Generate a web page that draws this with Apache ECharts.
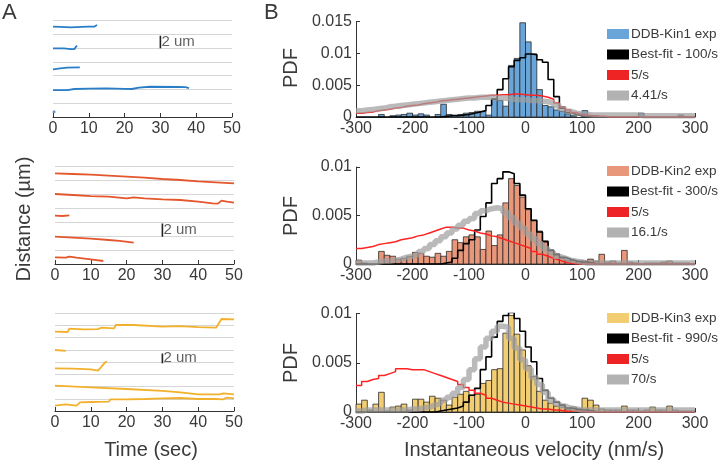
<!DOCTYPE html>
<html><head><meta charset="utf-8">
<script src="https://cdn.jsdelivr.net/npm/echarts/dist/echarts.min.js"></script>
<style>html,body{margin:0;padding:0;background:#fff}#c{width:722px;height:461px}</style>
</head><body><div id="c"></div>
<script>
// ---------------- DATA ----------------
// Panel A: trajectories, [time (s), distance (um, vertically offset)]
const kin1Tracks = [
  [[0,13.13],[2,13.1],[5,13.04],[8,13.1],[10,13.13],[11.5,13.13],[12.3,13.37]],
  [[0,9.98],[3,9.98],[5,9.88],[6,9.88],[6.4,10.2],[6.7,10.37]],
  [[0,6.93],[2,7.07],[4,7.17],[7.5,7.22]],
  [[0,3.92],[4,3.92],[6,4.07],[10,4.12],[15,4.17],[20,4.1],[22,4.07],[24,4.26],[27,4.4],[35,4.36],[37,4.33],[38,4.21]]
];
const kin1Dot = [[0.3,0.77]];
const kin2Tracks = [
  [[0,12.95],[5,12.86],[10,12.76],[15,12.62],[20,12.48],[25,12.33],[30,12.14],[35,12.0],[40,11.81],[45,11.67],[50,11.52]],
  [[0,10.0],[5,9.86],[10,9.71],[15,9.62],[20,9.38],[22,9.52],[25,9.38],[30,9.24],[35,9.14],[40,8.9],[44,8.67],[45.5,8.62],[46.5,9.05],[48,8.9],[50,8.76]],
  [[0,6.9],[2,6.86],[4,6.95]],
  [[0,3.9],[5,3.76],[10,3.62],[15,3.43],[18,3.29],[22,3.05]],
  [[0,0.95],[3,0.9],[4,1.05],[6,0.9],[10,0.67],[13.5,0.43]]
];
const kin3Tracks = [
  [[0,12.95],[3.5,12.9],[4,13.44],[8,13.33],[12,13.38],[13,13.6],[16.5,13.5],[17,14.04],[22,14.04],[30,13.76],[35,13.87],[40,13.71],[45,13.6],[46.5,15.02],[50,14.96]],
  [[0,9.96],[3,9.8]],
  [[0,6.97],[5,6.92],[10,6.8],[12,6.58],[13,7.25],[14,7.95],[14.5,8.05]],
  [[0,4.13],[10,3.87],[20,3.59],[30,3.27],[35,3.05],[40,2.72],[46,2.72],[47,2.89],[50,2.72]],
  [[0,0.87],[3,1.09],[6,0.87],[6.5,0.76],[7,1.42],[10,1.47],[15,1.52],[15.5,1.91],[20,1.91],[25,1.96],[30,2.07],[35,2.12],[40,1.96],[45,1.96],[47,1.91],[48,2.18],[50,2.07]]
];
const scaleBarA1 = [[30,10.0],[30,11.8]];
const scaleBarA2 = [[30,3.9],[30,5.8]];
const scaleBarA3 = [[30,7.8],[30,9.4]];
const scaleLabel = '2 um';
const timeTicks = [0,10,20,30,40,50];

// Panel B: histogram bins (nm/s), bin width 10
const binCenters = [-295,-285,-275,-265,-255,-245,-235,-225,-215,-205,-195,-185,-175,-165,-155,-145,-135,-125,-115,-105,-95,-85,-75,-65,-55,-45,-35,-25,-15,-5,5,15,25,35,45,55,65,75,85,95,105,115,125,135,145,155,165,175,185,195,205,215,225,235,245,255,265,275,285,295];
const binWidth = 10;

const kin1Exp = [0,0,0,0,.0004,0,.0002,.0003,.0004,.0006, .0003,.0005,.0003,0,.0004,.002,.0004,.0003,.0004,.0006, .0007,.0009,.0009,.0003,.0028,.0026,.0017,.0081,.0092,.0148, .0118,.0099,.0043,.0018,.0016,.0011,.0009,.0005,.0002,0, .001,0,.0002,0,0,0,0,0,0,0, .0006,0,0,0,0,0,0,.0003,0,0];
const kin1Fit = [0,0,0,0,0,0,0,0,0,0, 0,0,0,0,0,.0001,.0002,.0002,.0003,.0004, .0006,.0008,.0010,.0018,.0028,.0043,.006,.0079,.0089,.0093, .0099,.0098,.0090,.0086,.0059,.0032,.0014,.0007,.0004,.0002, .0001,0,0,0,0,0,0,0,0,0, 0,0,0,0,0,0,0,0,0,0];
const kin1Red = [.0006,.0007,.0008,.0010,.0011,.0012,.0014,.0015,.0017,.0018, .0019,.0021,.0022,.0023,.0025,.0026,.0027,.0028,.0029,.0030, .0031,.0032,.0033,.0034,.0034,.0035,.0035,.0036,.0036,.0035, .0034,.0034,.0033,.0031,.0028,.0022,.0016,.0011,.0007,.0004, .0003,.0002,.0001,.0001,0,0,0,0,0,0, 0,0,0,0,0,0,0,0,0,0];
const kin1Gray = [.0010,.0011,.0012,.0013,.0014,.0016,.0017,.0018,.0019,.0020, .0021,.0022,.0023,.0024,.0025,.0026,.0027,.0028,.0029,.0030, .0030,.0031,.0031,.0031,.0030,.0030,.0029,.0028,.0027,.0027, .0026,.0026,.0025,.0024,.0022,.0018,.0013,.0009,.0006,.0005, .0004,.0003,.0003,.0003,.0003,.0003,.0003,.0003,.0003,.0003, .0002,.0002,.0002,.0002,.0002,.0002,.0002,.0002,.0002,.0002];

const kin2Exp = [.0004,.0001,0,0,.0013,.0009,.0008,.0005,.0006,.0008, .0012,.0011,.0008,.0007,.0011,.0008,.0013,.0025,.0022,.0028, .0030,.0028,.0015,.0034,.0019,.0030,.0063,.0088,.0081,.0069, .0056,.0045,.0034,.0024,.0014,.0009,.0006,.0004,.0004,.0003, .0003,.0005,.0003,.0010,.0002,.0003,.0001,.0014,.0002,.0001, 0,.0001,.0001,.0001,.0002,.0003,.0001,.0001,.0001,0];
const kin2Fit = [0,0,0,0,0,0,0,0,0,0, 0,0,0,0,0,.0001,.0002,.0006,.0014,.0021, .0025,.0035,.0049,.0063,.0083,.0088,.0095,.0093,.0083,.0071, .0057,.0045,.0033,.0023,.0014,.0010,.0007,.0005,.0003,.0002, .0002,.0001,0,0,0,0,0,0,0,0, 0,0,0,0,0,0,0,0,0,0];
const kin2Red = [.0016,.0017,.0018,.0020,.0021,.0022,.0023,.0025,.0026,.0027, .0029,.0030,.0032,.0034,.0036,.0038,.0038,.0037,.0037,.0035, .0034,.0032,.0031,.0029,.0028,.0026,.0024,.0022,.0020,.0018, .0016,.0013,.0010,.0008,.0006,.0004,.0002,.0001,0,0, 0,0,0,0,0,0,0,0,0,0, 0,0,0,0,0,0,0,0,0,0];
const kin2Gray = [.0001,.0001,.0001,.0002,.0003,.0003,.0004,.0005,.0007,.0008, .0010,.0013,.0016,.0020,.0024,.0028,.0032,.0036,.0040,.0044, .0047,.0052,.0055,.0057,.0058,.0057,.0053,.0048,.0042,.0037, .0031,.0026,.0021,.0016,.0012,.0008,.0006,.0004,.0003,.0002, .0001,.0001,.0001,.0001,.0001,.0001,.0001,.0001,.0001,.0001, .0001,.0001,.0001,.0001,.0001,.0001,.0001,.0001,.0001,.0001];

const kin3Exp = [.0008,.0012,.0002,.0008,.002,.0001,.0005,.0006,.0008,.0002, .0013,.0013,.001,.0016,.0014,.0012,.0007,.0015,.0018,.0021, .0017,.0018,.0029,.0032,.0043,.0044,.008,.0098,.0079,.0063, .0047,.0036,.0021,.0012,.0009,.0006,.0005,.0003,.0005,.0003, .0014,.0012,.0007,.0003,.0002,.0002,.0002,.0006,.0002,.0002, .0001,.0002,.0005,.0002,.0002,.0006,.0002,.0001,.0001,.0001];
const kin3Fit = [0,0,0,0,0,0,0,0,0,0, 0,0,0,0,.0001,.0002,.0003,.0004,.0006,.001, .0017,.0024,.0043,.0056,.0076,.0092,.0098,.0101,.0095,.0082, .0066,.0051,.0034,.0022,.0014,.0010,.0007,.0004,.0003,.0002, .0002,.0001,0,0,0,0,0,0,0,0, 0,0,0,0,0,0,0,0,0,0];
const kin3Red = [.0027,.0031,.0033,.0034,.0037,.0039,.0041,.0044,.0044,.0043, .0043,.0043,.0041,.0039,.0037,.0035,.0033,.0031,.0028,.0025, .0022,.0019,.0017,.0014,.0012,.0010,.0009,.0008,.0007,.0006, .0005,.0004,.0003,.0003,.0002,.0002,.0001,.0001,.0001,.0001, 0,0,0,0,0,0,0,0,0,0, 0,0,0,0,0,0,0,0,0,0];
const kin3Gray = [.0001,.0002,.0002,.0002,.0002,.0002,.0002,.0002,.0002,.0003, .0003,.0004,.0005,.0007,.0009,.0012,.0015,.0019,.0025,.0033, .0043,.0054,.0066,.0075,.0082,.0087,.0086,.0075,.0065,.0053, .0044,.0035,.0028,.0020,.0013,.0009,.0006,.0004,.0003,.0002, .0002,.0002,.0002,.0002,.0002,.0002,.0002,.0002,.0002,.0002, .0002,.0002,.0002,.0002,.0002,.0002,.0002,.0002,.0002,.0002];

const legend1 = ['DDB-Kin1 exp','Best-fit - 100/s','5/s','4.41/s'];
const legend2 = ['DDB-Kin2 exp','Best-fit - 300/s','5/s ','16.1/s'];
const legend3 = ['DDB-Kin3 exp','Best-fit - 990/s','5/s  ','70/s'];
const velTicks = [-300,-200,-100,0,100,200,300];

// ---------------- STYLE ----------------
const FONT = 'Liberation Sans';
const TXT = '#3a3a3a';
const AX = '#333';
const blue = '#2a7ec8', orange = '#e4562c', yellow = '#f2b12c';
const barBlue = '#6aa5d9', barOrange = '#e9977b', barYellow = '#f2cd72';
const redLine = '#ff2222', grayLine = 'rgba(160,160,160,0.72)', grayLegend = '#b2b2b2';

const chart = echarts.init(document.getElementById('c'), null, {renderer:'canvas'});

const gridsA = [
  {left:53, top:20.7, width:179, height:96.3},
  {left:55, top:166, width:179, height:98},
  {left:55, top:313, width:179, height:98}
];
const yMaxA = [14, 14, 16];
const gridsB = [
  {left:356, top:21.5, width:339, height:95.5},
  {left:356, top:167, width:339, height:97},
  {left:356, top:313.5, width:339, height:98.5}
];
const yMaxB = [0.015, 0.01, 0.01];

const grid = [], xAxis = [], yAxis = [], series = [];
gridsA.forEach((g,i)=>{
  grid.push(g);
  xAxis.push({gridIndex:i, type:'value', min:timeTicks[0], max:timeTicks[timeTicks.length-1], interval:10,
    axisLine:{onZero:false,lineStyle:{color:AX,width:1}}, axisTick:{inside:true,length:4,lineStyle:{color:AX}},
    axisLabel:{fontSize:16,color:TXT,fontFamily:FONT,margin:4}, splitLine:{show:false}});
  yAxis.push({gridIndex:i, type:'value', min:0, max:yMaxA[i], interval:2,
    axisLine:{show:false,onZero:false}, axisTick:{show:false}, axisLabel:{show:false},
    splitLine:{show:true,lineStyle:{color:'#d6d6d6',width:1}}});
});
gridsB.forEach((g,j)=>{
  const i = j+3;
  grid.push(g);
  xAxis.push({gridIndex:i, type:'value', min:velTicks[0], max:velTicks[velTicks.length-1], interval:100,
    axisLine:{onZero:false,lineStyle:{color:AX,width:1}}, axisTick:{inside:true,length:4,lineStyle:{color:AX}},
    axisLabel:{fontSize:16,color:TXT,fontFamily:FONT,margin:4}, splitLine:{show:false}});
  yAxis.push({gridIndex:i, type:'value', min:0, max:yMaxB[j], interval:0.005,
    axisLine:{show:true,onZero:false,lineStyle:{color:AX,width:1}}, axisTick:{show:true,inside:true,length:4,lineStyle:{color:AX}},
    axisLabel:{fontSize:16,color:TXT,fontFamily:FONT,margin:4}, splitLine:{show:false}});
});

function track(data, color, idx){
  return {type:'line', xAxisIndex:idx, yAxisIndex:idx, data, showSymbol:false, symbol:'none',
    lineStyle:{color, width:1.8}, itemStyle:{color}, z:3, silent:true};
}
function scaleBar(data, idx){
  series.push({type:'line', xAxisIndex:idx, yAxisIndex:idx, data, symbol:'none',
    lineStyle:{color:'#222', width:1.6}, z:4, silent:true});
  const mid = [data[0][0], (data[0][1]+data[1][1])/2];
  series.push({type:'scatter', xAxisIndex:idx, yAxisIndex:idx, data:[mid], symbolSize:0.1,
    label:{show:true, position:'right', distance:1, formatter:scaleLabel, fontSize:15, color:TXT, fontFamily:FONT}, z:4, silent:true});
}
kin1Tracks.forEach(t=>series.push(track(t, blue, 0)));
series.push({type:'scatter', xAxisIndex:0, yAxisIndex:0, data:kin1Dot, symbolSize:3, itemStyle:{color:blue}, silent:true});
kin2Tracks.forEach(t=>series.push(track(t, orange, 1)));
kin3Tracks.forEach(t=>series.push(track(t, yellow, 2)));
scaleBar(scaleBarA1, 0); scaleBar(scaleBarA2, 1); scaleBar(scaleBarA3, 2);

function bars(name, vals, color, idx){
  return {type:'custom', name, xAxisIndex:idx, yAxisIndex:idx, itemStyle:{color},
    data: binCenters.map((c,i)=>[c, vals[i]]), z:1, silent:true,
    renderItem:(params, api)=>{
      const c = api.value(0), v = api.value(1);
      if (!v) return {type:'group', children:[]};
      const p0 = api.coord([c - binWidth/2, 0]);
      const p1 = api.coord([c + binWidth/2, v]);
      return {type:'rect', shape:{x:p0[0], y:p1[1], width:p1[0]-p0[0], height:p0[1]-p1[1]},
        style:{fill:color, stroke:'#2a2a2a', lineWidth:0.8}};
    }};
}
function stairs(vals){
  const out = [];
  binCenters.forEach((c,i)=>{ out.push([c-binWidth/2, vals[i]]); out.push([c+binWidth/2, vals[i]]); });
  return out;
}
function stepLine(name, vals, color, width, legendColor, idx, z){
  return {type:'line', name, xAxisIndex:idx, yAxisIndex:idx, data:stairs(vals), symbol:'none', showSymbol:false,
    lineStyle:{color, width}, itemStyle:{color:legendColor}, z, silent:true};
}
const panels = [
  [legend1, kin1Exp, kin1Fit, kin1Red, kin1Gray, barBlue],
  [legend2, kin2Exp, kin2Fit, kin2Red, kin2Gray, barOrange],
  [legend3, kin3Exp, kin3Fit, kin3Red, kin3Gray, barYellow]
];
panels.forEach((p,j)=>{
  const idx = j+3;
  series.push(bars(p[0][0], p[1], p[5], idx));
  series.push(stepLine(p[0][1], p[2], '#000', 1.6, '#000', idx, 2));
  series.push(stepLine(p[0][2], p[3], redLine, 1.5, '#ee2424', idx, 3));
  series.push(stepLine(p[0][3], p[4], grayLine, 5.5, grayLegend, idx, 4));
});

const legendTops = [26, 163, 310];
const legend = panels.map((p,j)=>({
  data:p[0], orient:'vertical', left:607, top:legendTops[j], padding:0, itemWidth:22, itemHeight:10, itemGap:4.5,
  icon:'rect', selectedMode:false, itemStyle:{borderWidth:0},
  formatter: n => n.trim(),
  textStyle:{fontSize:13.5, color:TXT, fontFamily:FONT, lineHeight:16, padding:[0,0,0,-3]}
}));

function txt(text, x, y, size, rot){
  return {type:'text', x, y, rotation: rot||0,
    style:{text, fontSize:size, fontFamily:FONT, fill:TXT, align:'center', verticalAlign:'middle',
      textAlign:'center', textVerticalAlign:'middle'}};
}
const graphic = [
  {type:'text', left:2, top:2, style:{text:'A', fontSize:22, fontFamily:FONT, fill:TXT}},
  {type:'text', left:264, top:2, style:{text:'B', fontSize:22, fontFamily:FONT, fill:TXT}},
  txt('Distance (µm)', 24, 219, 20, Math.PI/2),
  txt('Time (sec)', 151, 450, 20),
  txt('PDF', 291, 68, 20, Math.PI/2),
  txt('PDF', 291, 216, 20, Math.PI/2),
  txt('PDF', 291, 363, 20, Math.PI/2),
  txt('Instantaneous velocity (nm/s)', 534, 450, 20)
];

chart.setOption({animation:false, backgroundColor:'#fff', grid, xAxis, yAxis, series, legend, graphic,
  textStyle:{fontFamily:FONT}});
</script></body></html>
